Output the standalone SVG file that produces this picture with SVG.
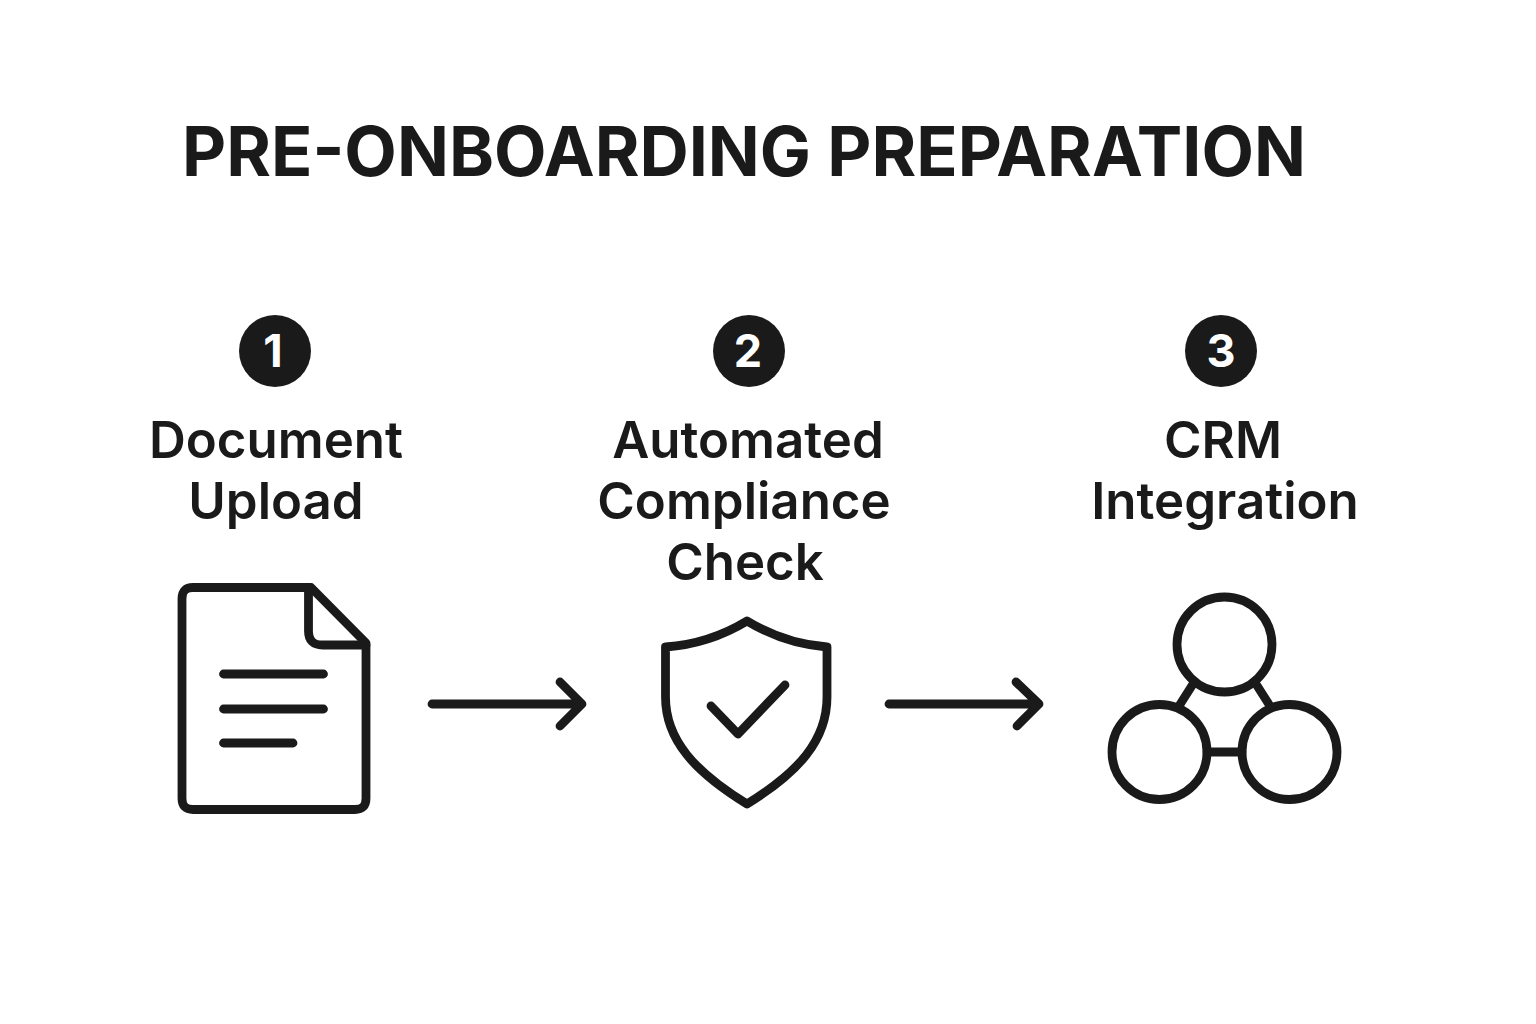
<svg xmlns="http://www.w3.org/2000/svg" width="1536" height="1024" viewBox="0 0 1536 1024">
<style>
.t{font-family:Inter,"Liberation Sans",sans-serif;fill:#1a1a1a;text-anchor:middle}
.l{font-size:51px;font-weight:560}
.n{font-size:45px;font-weight:700;fill:#fff}
.s{fill:none;stroke:#1a1a1a;stroke-width:8.8;stroke-linecap:round;stroke-linejoin:round}
.b{fill:#1a1a1a}
</style>
<rect width="1536" height="1024" fill="#fff"/>
<text class="t" x="744" y="176" font-size="69" font-weight="700" textLength="1124" lengthAdjust="spacingAndGlyphs">PRE-ONBOARDING PREPARATION</text>
<g id="node1">
<circle class="b" cx="275" cy="351" r="36"/>
<text class="t n" x="273" y="367">1</text>
<text class="t l" x="276" y="458">Document</text>
<text class="t l" x="276" y="519">Upload</text>
<path class="s" d="M193 587.5H311L366 643V798.5Q366 809.5 355 809.5H193Q182 809.500 182 798.5V598.5Q182 587.5 193 587.5Z"/>
<path class="s" d="M308.500 587.500V631Q308.500 645 322.500 645H366"/>
<path class="s" d="M223.500 674H323.500M223.500 709H323.500M223.500 743H293"/>
</g>
<g id="node2">
<circle class="b" cx="749" cy="351" r="36"/>
<text class="t n" x="748" y="367">2</text>
<text class="t l" x="748" y="458">Automated</text>
<text class="t l" x="744" y="519">Compliance</text>
<text class="t l" x="745" y="580">Check</text>
<path class="s" d="M747 621C775 638 800 645 827 647V697C827 740 799 772 747 804C695 772 665.500 740 665.500 697V647C694 645 719 638 747 621Z"/>
<path class="s" d="M711 706L738 734L785 685"/>
</g>
<g id="node3">
<circle class="b" cx="1221" cy="351" r="36"/>
<text class="t n" x="1221" y="367">3</text>
<text class="t l" x="1223" y="458">CRM</text>
<text class="t l" x="1225" y="519">Integration</text>
<circle class="s" cx="1224.5" cy="644.5" r="47.5"/>
<circle class="s" cx="1159.5" cy="752" r="47.5"/>
<circle class="s" cx="1289.5" cy="752" r="47.5"/>
<path class="s" d="M1193 684L1179 706M1256 684L1270 706M1207 752H1242" stroke-linecap="butt"/>
</g>
<g id="connectors">
<path class="s" d="M432 704H582M560 682L582 704L560 726"/>
<path class="s" d="M889 704H1039M1016 682L1039 704L1017 726"/>
</g>
</svg>
